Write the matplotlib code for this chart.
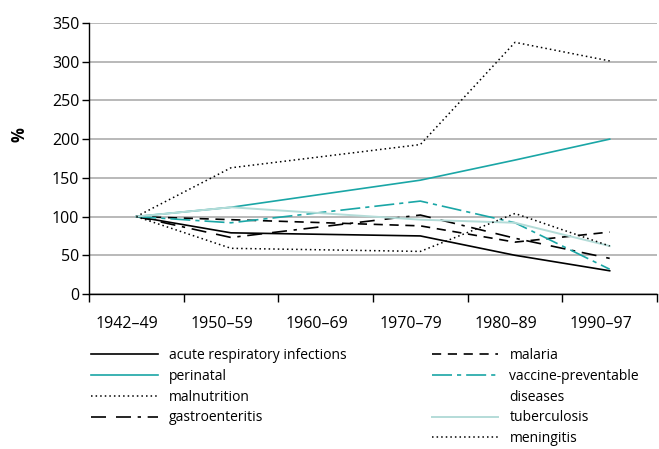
import matplotlib
matplotlib.use("Agg")
import matplotlib.pyplot as plt
import matplotlib.transforms as mtransforms
from matplotlib.lines import Line2D
import numpy as np

plt.rcParams['font.family'] = ['Open Sans', 'DejaVu Sans']

periods = ["1942–49", "1950–59", "1960–69", "1970–79", "1980–89", "1990–97"]
# data points exist for all periods except 1960–69
point_idx = [0, 1, 3, 4, 5]

acute_resp = [100, 79, 75, 50, 30]
perinatal = [100, 112, 147, 173, 200]
malnutrition = [100, 163, 193, 325, 301]
gastroenteritis = [100, 73, 102, 72, 46]
malaria = [100, 96, 88, 67, 80]
vaccine_prev = [100, 92, 120, 92, 32]
tuberculosis = [100, 112, 96, 92, 62]
meningitis = [100, 59, 55, 104, 62]

TEAL = "#1aa6a6"
LIGHT_TEAL = "#b4dcd8"

series = [
    ("acute respiratory infections", acute_resp, dict(color="black", lw=1.2, ls="-")),
    ("perinatal", perinatal, dict(color=TEAL, lw=1.2, ls="-")),
    ("malnutrition", malnutrition, dict(color="black", lw=1.1, ls=(0, (1, 2)))),
    ("gastroenteritis", gastroenteritis, dict(color="black", lw=1.2, ls=(0, (9, 6, 9, 4, 2, 4)))),
    ("malaria", malaria, dict(color="black", lw=1.2, ls=(0, (5.5, 4)))),
    ("vaccine-preventable", vaccine_prev, dict(color=TEAL, lw=1.2, ls=(0, (12, 3, 2.5, 3)))),
    ("tuberculosis", tuberculosis, dict(color=LIGHT_TEAL, lw=1.4, ls="-")),
    ("meningitis", meningitis, dict(color="black", lw=1.1, ls=(0, (1, 2)))),
]

fig = plt.figure(figsize=(6.59, 4.49), dpi=100)
ax = fig.add_axes([0.135, 0.3452, 0.862, 0.6036])

handles = []
for label, vals, style in series:
    h, = ax.plot(point_idx, vals, label=label, **style)
    handles.append(h)

ax.set_xlim(-0.5, 5.5)
ax.set_ylim(0, 350)
ax.set_yticks(np.arange(0, 351, 50))
ax.yaxis.grid(True, color="#b3b3b3", lw=1.3)
ax.set_axisbelow(True)

ax.set_xticks(range(len(periods)))
ax.set_xticklabels(periods, fontsize=11.5)
ax.tick_params(axis='x', which='major', length=0, pad=16)
ax.set_xticks(np.arange(-0.5, 5.6, 1), minor=True)
ax.tick_params(axis='x', which='minor', length=6, width=1, direction='out')
ax.tick_params(axis='y', length=5, width=1, labelsize=11.5, pad=2)

offset = mtransforms.ScaledTranslation(-9 / 100, 0, fig.dpi_scale_trans)
for lbl in ax.get_xticklabels():
    lbl.set_transform(lbl.get_transform() + offset)

for s in ["top", "right"]:
    ax.spines[s].set_visible(False)
ax.spines["left"].set_linewidth(1)
ax.spines["bottom"].set_linewidth(1)

fig.text(0.03, 0.70, "%", rotation=90, fontsize=12, fontweight="bold",
         ha="center", va="center")

leg_kw = dict(loc="upper left", frameon=False, fontsize=10, handlelength=4.8,
              handletextpad=0.8, labelspacing=0.42, borderaxespad=0,
              borderpad=0)

left_h = handles[:4]
fig.legend(handles=left_h, labels=[h.get_label() for h in left_h],
           bbox_to_anchor=(0.138, 0.225), **leg_kw)

blank = Line2D([], [], color="none")
right_h = [handles[4], handles[5], blank, handles[6], handles[7]]
right_l = ["malaria", "vaccine-preventable", "diseases", "tuberculosis", "meningitis"]
fig.legend(handles=right_h, labels=right_l,
           bbox_to_anchor=(0.655, 0.225), **leg_kw)

fig.savefig("out.png", dpi=100)
